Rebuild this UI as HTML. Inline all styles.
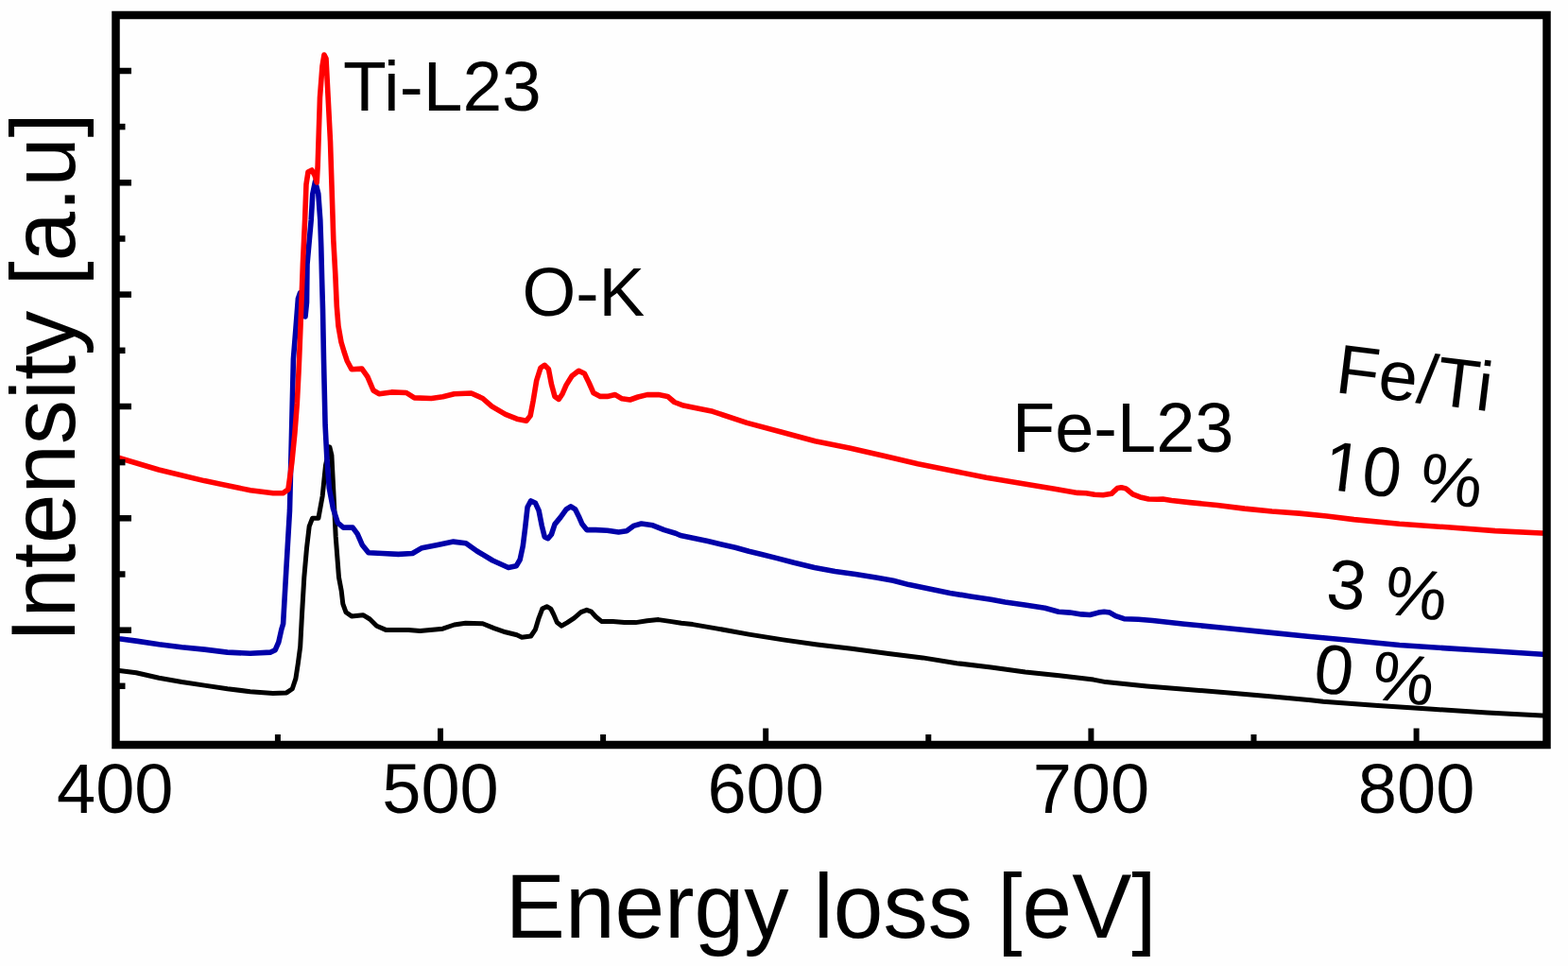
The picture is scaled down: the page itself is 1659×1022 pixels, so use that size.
<!DOCTYPE html>
<html><head><meta charset="utf-8"><title>EELS spectra</title>
<style>html,body{margin:0;padding:0;background:#fefefe;}svg{display:block;}</style>
</head><body>
<svg width="1659" height="1022" viewBox="0 0 1659 1022">
<rect width="1659" height="1022" fill="#fefefe"/>
<defs><clipPath id="nofoot" clipPathUnits="userSpaceOnUse"><path clip-rule="evenodd" d="M-100,-200 H400 V100 H-100 Z M3,-6.3 H18.5 V3 H3 Z M25.3,-6.3 H40 V3 H25.3 Z"/></clipPath></defs>
<g fill="none" stroke-linejoin="round" stroke-linecap="round">
<polyline points="122,709 126,709.4 144.1,711.8 168.2,717.3 192.3,721.5 216.4,725.1 240.6,728.7 264.7,731.7 288.8,733.5 303.2,732.9 309.3,728.7 312.9,717.9 315.3,702.2 317.7,684.1 319.5,650 321.8,610.8 324.5,580 327.2,556.9 330.5,548.3 336.9,548.3 341.2,524.6 344.5,492.3 348.8,472.9 350.9,481.5 353.1,524.6 355.2,567.7 358.5,610.8 361.2,625 362.8,638.8 366,647.7 372,651.9 384.1,650.7 391.3,655 398.6,662.2 408.2,666.4 432.3,666.4 444.4,667.6 468.5,665.2 480.6,661 492.6,659.2 510.7,659.8 522.7,664.6 534.8,668.8 546.9,671.8 552.1,674.2 561.7,673 566.5,665.8 570.1,653.8 573.8,644.1 578.6,641.7 582.8,644.1 585.8,650.1 589.4,658.6 594.2,662.2 600.3,658.6 607.5,653.8 614.7,647.7 620.8,645.3 625.6,647.1 630.4,652.5 636.4,657.4 648.5,657.4 660.6,658.6 672.6,658.6 684.7,656.8 696.7,655.6 708.8,657.4 720.8,659.2 732.9,660.6 756.2,664.6 792.3,671.1 828.5,676.9 864.7,682 900.8,686.3 940,691.6 976.2,695.9 1012.3,701.7 1048.5,706 1084.7,711.1 1120.8,714.7 1157,719.1 1170,721.6 1213.4,725.9 1256.8,729.5 1300.2,733.1 1343.6,736.8 1387,740.8 1400,742.3 1457.9,746.6 1515.7,750.3 1573.6,753.9 1636,757.2" stroke="#000" stroke-width="5"/>
<polyline points="122,675 126,675.7 144.1,678.1 168.2,681.7 192.3,684.7 216.4,687.1 240.6,690.1 264.7,691.3 286.4,690.1 291.2,687.7 294.8,679.3 297.8,666 299.6,660 303,600 306.5,540 308.5,460 310.4,380 313,347 315.4,316 317.5,310 320,318 323,335 324.5,320 325,279.7 329.2,232.7 330.8,205 333.5,192 336.8,205 338.8,232.7 339.8,262 340.6,295 341.5,326.7 342.5,380 344.1,450 345.8,483.3 348.3,516.5 352.5,538.1 357.4,553.1 363.3,558.1 373.2,558.1 378.2,564.8 383.2,576.4 389.9,584.7 404.8,585.5 421.5,586.4 436.4,585.5 446.4,579.7 463,576.4 479.7,573.1 493,574.7 504.6,583 521.3,593 537.9,600.5 546.2,598.8 550.2,592 553.3,577.5 555.7,558.2 558.1,536.5 561.7,529.9 566.5,532.3 570.1,540.1 573.2,555.8 576.2,567.9 579.8,569.7 583.4,565.5 587,554.6 593,547.4 599.1,538.9 603.9,535.9 608.7,538.9 612.3,546.2 616,554.6 620.8,560.6 630.4,560.6 642.5,561.2 654.5,563 663,561.8 670.2,556.4 678.6,554 690.7,555.8 702.7,560.6 714.8,564.2 720,566.5 734.5,569.4 748.9,572.5 763.4,575.9 777.9,579.2 792.3,583.3 806.8,586.7 821.3,590.4 840,595.3 861.7,600.4 883.4,604.5 905.1,607.6 926.8,611 945,614.2 961.7,618.6 983.4,623 1005.1,627.4 1026.8,631 1048.5,634.2 1063.3,637 1084.4,640 1105.5,643.3 1120,647.2 1132,648.1 1144.1,649.9 1153.2,650.5 1162.2,648.1 1168.2,647.2 1174.2,648.1 1180.3,651.7 1189.3,654.7 1204.4,655.3 1219.5,656.5 1253.4,660.2 1296.8,664.5 1340.2,668.9 1383.6,673.2 1427,677.3 1480.6,682.5 1531.3,685.9 1581.9,689 1636,692.5" stroke="#0000a8" stroke-width="5.6"/>
<polyline points="122,483.5 126,484.5 168,497 216,508.6 265,518.8 289,521.8 299.4,521.8 304.9,517.9 308.8,489.7 311.9,458.3 314.3,427 315.9,395.7 316.6,380 318,345 320.4,279.7 322.6,232.7 324,195 326,182 330,180 333.2,186 335.2,193 336.2,175 338.5,102.7 341,70 343,58 345,62 347.1,102.7 349.5,149.7 351,196.6 352.8,253.8 354.8,290 356.3,324 358,345 361,362 364,372 367.2,381.7 372,390.7 382.9,390.1 388.9,398.6 395,413 401,416.7 414.2,414.9 429.9,415.5 438.4,420.9 456.4,421.5 468.5,419.7 480.6,416.7 498.6,416 510.7,421.5 520.3,429.9 534.8,438.4 546.9,443.2 556.9,445.3 561.1,439.9 564.1,424.2 567.7,402.5 571.9,389.3 576.2,386.3 580.4,390.5 583.4,406.2 587,419.4 591.2,422.4 594.9,417 599.1,407.4 605.1,397.7 612.3,392.3 618.4,395.3 623.2,405 628,415.8 635.2,419.4 642.5,419.4 650.9,417.6 658.1,421.8 666.6,423 675,420 684.7,417.6 696.7,417.6 706.4,419.4 713.6,425.5 723.2,429.1 732.9,430.9 754.1,435.3 790.3,447.4 826.4,457 862.6,466.7 898.8,473.9 935,482.3 971.1,490.8 1007.3,498 1043.4,505.2 1079.6,511.3 1115.8,517.3 1140,521.4 1149,521.7 1158.1,523.2 1167.1,523.8 1176.2,522.3 1179.2,519.3 1182.2,516.6 1186.4,515.7 1191.2,516.9 1194.2,519.3 1198.5,522.9 1206.3,525.9 1215.3,528 1224.4,528.3 1230.4,528 1239.5,529.5 1258.9,531.6 1287.9,534.5 1316.8,538.1 1345.7,541 1374.7,543.1 1403.6,546 1432.5,549.6 1480.6,554.3 1531.3,557.8 1581.9,561.6 1636,564.3" stroke="#ff0000" stroke-width="5.6"/>
</g>
<g>
<line x1="293.9" y1="788.0" x2="293.9" y2="777" stroke="#000" stroke-width="6"/>
<line x1="466.0" y1="788.0" x2="466.0" y2="770.5" stroke="#000" stroke-width="6"/>
<line x1="638.1" y1="788.0" x2="638.1" y2="777" stroke="#000" stroke-width="6"/>
<line x1="810.2" y1="788.0" x2="810.2" y2="770.5" stroke="#000" stroke-width="6"/>
<line x1="982.3" y1="788.0" x2="982.3" y2="777" stroke="#000" stroke-width="6"/>
<line x1="1154.4" y1="788.0" x2="1154.4" y2="770.5" stroke="#000" stroke-width="6"/>
<line x1="1326.5" y1="788.0" x2="1326.5" y2="777" stroke="#000" stroke-width="6"/>
<line x1="1498.6" y1="788.0" x2="1498.6" y2="770.5" stroke="#000" stroke-width="6"/>
<line x1="122.5" y1="725.8" x2="132.5" y2="725.8" stroke="#000" stroke-width="6.5"/>
<line x1="122.5" y1="666.7" x2="139" y2="666.7" stroke="#000" stroke-width="6.5"/>
<line x1="122.5" y1="607.5" x2="132.5" y2="607.5" stroke="#000" stroke-width="6.5"/>
<line x1="122.5" y1="548.3" x2="139" y2="548.3" stroke="#000" stroke-width="6.5"/>
<line x1="122.5" y1="489.1" x2="132.5" y2="489.1" stroke="#000" stroke-width="6.5"/>
<line x1="122.5" y1="430.0" x2="139" y2="430.0" stroke="#000" stroke-width="6.5"/>
<line x1="122.5" y1="370.8" x2="132.5" y2="370.8" stroke="#000" stroke-width="6.5"/>
<line x1="122.5" y1="311.6" x2="139" y2="311.6" stroke="#000" stroke-width="6.5"/>
<line x1="122.5" y1="252.5" x2="132.5" y2="252.5" stroke="#000" stroke-width="6.5"/>
<line x1="122.5" y1="193.3" x2="139" y2="193.3" stroke="#000" stroke-width="6.5"/>
<line x1="122.5" y1="134.1" x2="132.5" y2="134.1" stroke="#000" stroke-width="6.5"/>
<line x1="122.5" y1="75.0" x2="139" y2="75.0" stroke="#000" stroke-width="6.5"/>
</g>
<rect x="122.5" y="16" width="1514.0" height="772" fill="none" stroke="#000" stroke-width="8.5"/>
<g fill="#000">
<text x="121.8" y="860.3" font-size="74" text-anchor="middle" font-family="'Liberation Sans', Arial, sans-serif">400</text>
<text x="466.0" y="860.3" font-size="74" text-anchor="middle" font-family="'Liberation Sans', Arial, sans-serif">500</text>
<text x="810.2" y="860.3" font-size="74" text-anchor="middle" font-family="'Liberation Sans', Arial, sans-serif">600</text>
<text x="1154.4" y="860.3" font-size="74" text-anchor="middle" font-family="'Liberation Sans', Arial, sans-serif">700</text>
<text x="1498.6" y="860.3" font-size="74" text-anchor="middle" font-family="'Liberation Sans', Arial, sans-serif">800</text>
<text transform="translate(879.2,992) scale(0.9755,1)" font-size="97" text-anchor="middle" font-family="'Liberation Sans', Arial, sans-serif">Energy loss [eV]</text>
<text transform="translate(79.4,399.5) rotate(-90) scale(0.982,1)" font-size="96" text-anchor="middle" font-family="'Liberation Sans', Arial, sans-serif">Intensity [a.u]</text>
<text x="363" y="116.5" font-size="75" font-family="'Liberation Sans', Arial, sans-serif">Ti-L23</text>
<text x="552.5" y="333.5" font-size="73" font-family="'Liberation Sans', Arial, sans-serif">O-K</text>
<text x="1071" y="478" font-size="74" font-family="'Liberation Sans', Arial, sans-serif">Fe-L23</text>
<text transform="translate(1411.5,415) rotate(7)" font-size="74" font-family="'Liberation Sans', Arial, sans-serif">Fe/Ti</text>
<text transform="translate(1398,517) rotate(7)" font-size="74" clip-path="url(#nofoot)" font-family="'Liberation Sans', Arial, sans-serif">10 %</text>
<text transform="translate(1401.5,641.5) rotate(7)" font-size="74" font-family="'Liberation Sans', Arial, sans-serif">3 %</text>
<text transform="translate(1388,731.5) rotate(7)" font-size="74" font-family="'Liberation Sans', Arial, sans-serif">0 %</text>
</g>
</svg>
</body></html>
